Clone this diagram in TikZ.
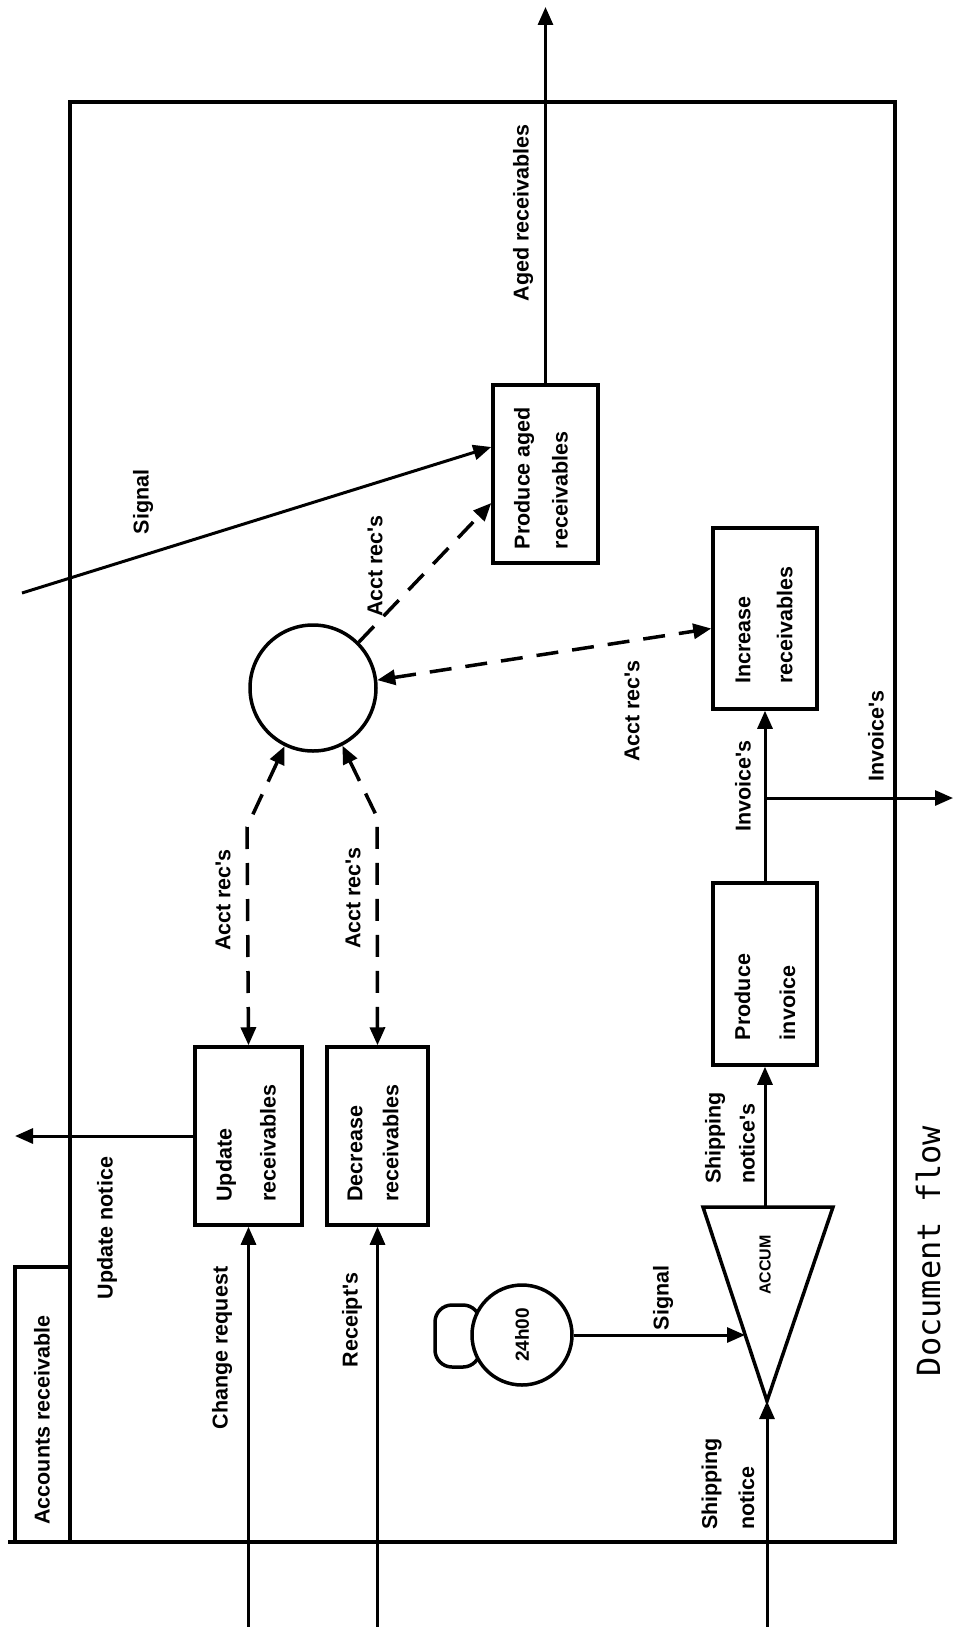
\documentclass[tikz,border=0pt]{standalone}
\usepackage{fontspec}
\newfontfamily\lab{Liberation Sans}
\newfontfamily\mono{DejaVu Sans Mono}
\usetikzlibrary{arrows.meta}
\begin{document}
\begin{tikzpicture}[x=1pt,y=-1pt,
  >={Triangle[length=18pt,width=15pt]},
  bord/.style={line width=3.5pt},
  box/.style={draw, line width=3.5pt, rectangle, inner sep=0pt},
  flow/.style={line width=3pt, ->},
  dflow/.style={line width=3.5pt, dash pattern=on 22pt off 14pt},
  lbl/.style={font=\lab\bfseries\fontsize{21.5}{#1}\selectfont, rotate=90, align=left, inner sep=0pt},
  lbl/.default=40,
]
\useasboundingbox (0,0) rectangle (953,1627);
% frame
\draw[bord] (70,102) rectangle (895,1542);
\draw[bord] (8,1542) -- (70,1542);
\draw[bord] (15,1542) -- (15,1267) -- (72,1267);
% boxes
\node[box, minimum width=107pt, minimum height=178pt] (upd) at (248.5,1136) {};
\node[box, minimum width=101pt, minimum height=178pt] (dec) at (377.5,1136) {};
\node[box, minimum width=105pt, minimum height=178pt] (aged) at (545.5,474) {};
\node[box, minimum width=104pt, minimum height=181pt] (inc) at (765,618.5) {};
\node[box, minimum width=104pt, minimum height=182pt] (pinv) at (765,974) {};
\node[draw, circle, line width=3.5pt, minimum size=126pt, inner sep=0pt] (store) at (313,688) {};
% clock
\draw[line width=3.5pt, rounded corners=17pt] (435,1305) rectangle (480,1367);
\node[draw, circle, line width=3.5pt, minimum size=100pt, inner sep=0pt, fill=white] (clock) at (522,1335) {};
% accumulator
\coordinate (accL) at (703,1207);
\coordinate (accR) at (833,1207);
\coordinate (accA) at (767,1401);
\coordinate (accT) at (765,1207);
\coordinate (accIn) at (745,1335);
\draw[line width=3.5pt, line join=miter] (accL) -- (accR) -- (accA) -- cycle;
% free ends
\coordinate (chgIn) at (248.5,1627);
\coordinate (rcIn) at (377.5,1627);
\coordinate (updOut) at (15,1136);
\coordinate (shipIn) at (767,1627);
\coordinate (agedOut) at (545.5,7);
\coordinate (sigIn) at (22,593);
\coordinate (br) at (765,798);
\coordinate (invOut) at (953,798);
\coordinate (bendL) at (247,827);
\coordinate (bendR) at (377,817);
% solid connectors
\draw[flow] (chgIn) -- (upd.south);
\draw[flow] (rcIn) -- (dec.south);
\draw[flow] (upd.west) -- (updOut);
\draw[flow] (aged.north) -- (agedOut);
\draw[flow] (sigIn) -- ([yshift=27pt]aged.west);
\draw[flow] (clock.east) -- (accIn);
\draw[flow] (shipIn) -- (accA);
\draw[flow] (accT) -- (pinv.south);
\draw[flow] (pinv.north) -- (inc.south);
\draw[flow] (br) -- (invOut);
% dashed connectors
\draw[dflow, ->] (store.45) -- ([yshift=-29pt]aged.west);
\draw[dflow, <->] (store.7) -- ([yshift=-10pt]inc.west);
\draw[dflow, <->] (store.244) -- (bendL) -- (upd.north);
\draw[dflow, <->] (store.297) -- (bendR) -- (dec.north);
% labels
\node[lbl] (tAcc) at (42,1420) {Accounts receivable};
\node[lbl] (tUN) at (107,1228) {Update notice};
\node[lbl=44] (tUpd) at (246,1143) {Update\\receivables};
\node[lbl=36] (tDec) at (373,1143) {Decrease\\receivables};
\node[lbl] (tCR) at (222,1348) {Change request};
\node[lbl] (tRc) at (352,1320) {Receipt's};
\node[lbl] (tA1) at (223,900) {Acct rec's};
\node[lbl] (tA2) at (353,898) {Acct rec's};
\node[lbl] (tA3) at (632,711) {Acct rec's};
\node[lbl] (tA4) at (375,566) {Acct rec's};
\node[lbl] (tSig1) at (143,502) {Signal};
\node[lbl=38] (tAged) at (541,478) {Produce aged\\receivables};
\node[lbl] (tAR) at (523,213) {Aged receivables};
\node[lbl=42] (tInc) at (764,625) {Increase\\receivables};
\node[lbl] (tInv1) at (743,786) {Invoice's};
\node[lbl] (tInv2) at (876,736) {Invoice's};
\node[lbl=45] (tPinv) at (765,997) {Produce\\invoice};
\node[lbl=34] (tSN1) at (730,1138) {Shipping\\notice's};
\node[lbl] (tSig2) at (663,1298) {Signal};
\node[lbl, font=\lab\bfseries\fontsize{16}{19}\selectfont] (tAcc2) at (765,1265) {ACCUM};
\node[lbl, font=\lab\bfseries\fontsize{19}{22}\selectfont] (tClk) at (522,1335) {24h00};
\node[lbl=37] (tSN2) at (728,1484) {Shipping\\notice};
\node[font=\mono\fontsize{32}{40}\selectfont, rotate=90, inner sep=0pt] (tDoc) at (928,1251) {Document flow};
\end{tikzpicture}
\end{document}
